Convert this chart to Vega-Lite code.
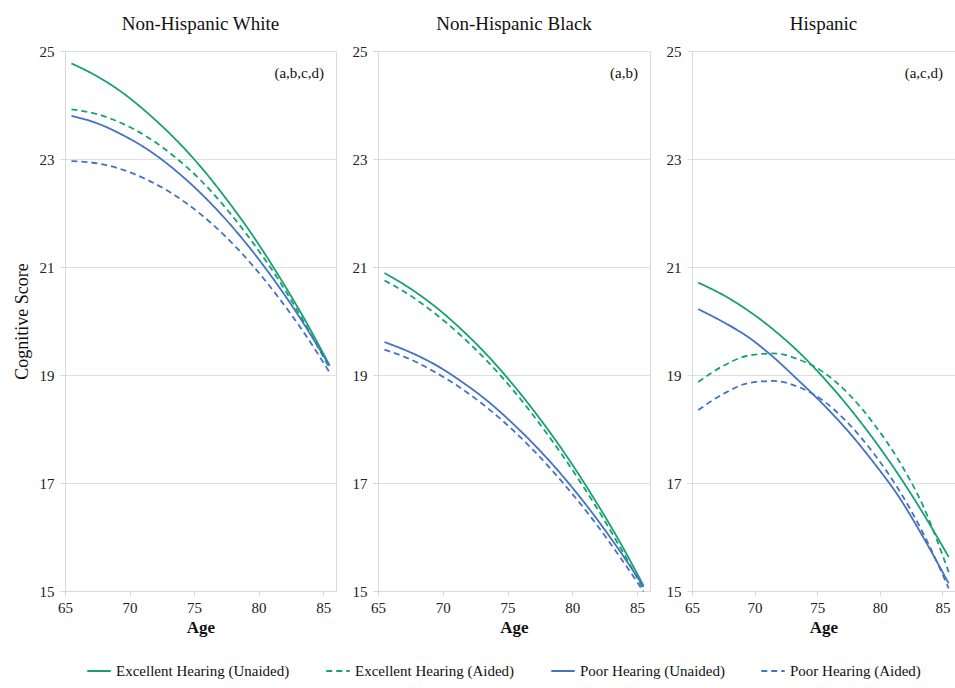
{
  "$schema": "https://vega.github.io/schema/vega-lite/v6.json",
  "background": "white",
  "padding": {"left": 12, "top": 14, "right": 4, "bottom": 5},
  "config": {
    "font": "'Liberation Serif', 'Times New Roman', 'DejaVu Serif', serif",
    "view": {"stroke": "#d9d9d9", "strokeWidth": 1},
    "axis": {
      "labelFont": "'Liberation Serif', 'Times New Roman', 'DejaVu Serif', serif",
      "labelFontSize": 15,
      "labelColor": "#222222",
      "titleFont": "'Liberation Serif', 'Times New Roman', 'DejaVu Serif', serif",
      "titleColor": "#111111",
      "domainColor": "#d9d9d9",
      "tickColor": "#d9d9d9",
      "gridColor": "#dedede",
      "tickSize": 5
    },
    "title": {"font": "'Liberation Serif', 'Times New Roman', 'DejaVu Serif', serif", "fontSize": 19, "fontWeight": "normal", "color": "#111111", "offset": 10, "anchor": "middle"},
    "text": {"font": "'Liberation Serif', 'Times New Roman', 'DejaVu Serif', serif"},
    "legend": {
      "orient": "bottom",
      "direction": "horizontal",
      "labelFont": "'Liberation Serif', 'Times New Roman', 'DejaVu Serif', serif",
      "labelFontSize": 15,
      "labelColor": "#111111",
      "symbolType": "stroke",
      "symbolStrokeWidth": 2,
      "symbolSize": 550,
      "columnPadding": 32,
      "padding": 21,
      "offset": 1,
      "labelLimit": 400
    },
    "concat": {"spacing": 14}
  },
  "datasets": {
    "curves": [
      {"group": "Non-Hispanic White", "hearing": "Excellent Hearing (Unaided)", "age": 65, "score": 24.77},
      {"group": "Non-Hispanic White", "hearing": "Excellent Hearing (Unaided)", "age": 67, "score": 24.53},
      {"group": "Non-Hispanic White", "hearing": "Excellent Hearing (Unaided)", "age": 69, "score": 24.22},
      {"group": "Non-Hispanic White", "hearing": "Excellent Hearing (Unaided)", "age": 71, "score": 23.83},
      {"group": "Non-Hispanic White", "hearing": "Excellent Hearing (Unaided)", "age": 73, "score": 23.38},
      {"group": "Non-Hispanic White", "hearing": "Excellent Hearing (Unaided)", "age": 75, "score": 22.86},
      {"group": "Non-Hispanic White", "hearing": "Excellent Hearing (Unaided)", "age": 77, "score": 22.26},
      {"group": "Non-Hispanic White", "hearing": "Excellent Hearing (Unaided)", "age": 79, "score": 21.60},
      {"group": "Non-Hispanic White", "hearing": "Excellent Hearing (Unaided)", "age": 81, "score": 20.86},
      {"group": "Non-Hispanic White", "hearing": "Excellent Hearing (Unaided)", "age": 83, "score": 20.06},
      {"group": "Non-Hispanic White", "hearing": "Excellent Hearing (Unaided)", "age": 85, "score": 19.18},
      {"group": "Non-Hispanic White", "hearing": "Excellent Hearing (Aided)", "age": 65, "score": 23.92},
      {"group": "Non-Hispanic White", "hearing": "Excellent Hearing (Aided)", "age": 67, "score": 23.83},
      {"group": "Non-Hispanic White", "hearing": "Excellent Hearing (Aided)", "age": 69, "score": 23.65},
      {"group": "Non-Hispanic White", "hearing": "Excellent Hearing (Aided)", "age": 71, "score": 23.39},
      {"group": "Non-Hispanic White", "hearing": "Excellent Hearing (Aided)", "age": 73, "score": 23.04},
      {"group": "Non-Hispanic White", "hearing": "Excellent Hearing (Aided)", "age": 75, "score": 22.61},
      {"group": "Non-Hispanic White", "hearing": "Excellent Hearing (Aided)", "age": 77, "score": 22.08},
      {"group": "Non-Hispanic White", "hearing": "Excellent Hearing (Aided)", "age": 79, "score": 21.47},
      {"group": "Non-Hispanic White", "hearing": "Excellent Hearing (Aided)", "age": 81, "score": 20.78},
      {"group": "Non-Hispanic White", "hearing": "Excellent Hearing (Aided)", "age": 83, "score": 19.99},
      {"group": "Non-Hispanic White", "hearing": "Excellent Hearing (Aided)", "age": 85, "score": 19.12},
      {"group": "Non-Hispanic White", "hearing": "Poor Hearing (Unaided)", "age": 65, "score": 23.80},
      {"group": "Non-Hispanic White", "hearing": "Poor Hearing (Unaided)", "age": 67, "score": 23.66},
      {"group": "Non-Hispanic White", "hearing": "Poor Hearing (Unaided)", "age": 69, "score": 23.44},
      {"group": "Non-Hispanic White", "hearing": "Poor Hearing (Unaided)", "age": 71, "score": 23.16},
      {"group": "Non-Hispanic White", "hearing": "Poor Hearing (Unaided)", "age": 73, "score": 22.80},
      {"group": "Non-Hispanic White", "hearing": "Poor Hearing (Unaided)", "age": 75, "score": 22.37},
      {"group": "Non-Hispanic White", "hearing": "Poor Hearing (Unaided)", "age": 77, "score": 21.87},
      {"group": "Non-Hispanic White", "hearing": "Poor Hearing (Unaided)", "age": 79, "score": 21.30},
      {"group": "Non-Hispanic White", "hearing": "Poor Hearing (Unaided)", "age": 81, "score": 20.66},
      {"group": "Non-Hispanic White", "hearing": "Poor Hearing (Unaided)", "age": 83, "score": 19.95},
      {"group": "Non-Hispanic White", "hearing": "Poor Hearing (Unaided)", "age": 85, "score": 19.17},
      {"group": "Non-Hispanic White", "hearing": "Poor Hearing (Aided)", "age": 65, "score": 22.96},
      {"group": "Non-Hispanic White", "hearing": "Poor Hearing (Aided)", "age": 67, "score": 22.92},
      {"group": "Non-Hispanic White", "hearing": "Poor Hearing (Aided)", "age": 69, "score": 22.80},
      {"group": "Non-Hispanic White", "hearing": "Poor Hearing (Aided)", "age": 71, "score": 22.60},
      {"group": "Non-Hispanic White", "hearing": "Poor Hearing (Aided)", "age": 73, "score": 22.33},
      {"group": "Non-Hispanic White", "hearing": "Poor Hearing (Aided)", "age": 75, "score": 21.98},
      {"group": "Non-Hispanic White", "hearing": "Poor Hearing (Aided)", "age": 77, "score": 21.55},
      {"group": "Non-Hispanic White", "hearing": "Poor Hearing (Aided)", "age": 79, "score": 21.04},
      {"group": "Non-Hispanic White", "hearing": "Poor Hearing (Aided)", "age": 81, "score": 20.45},
      {"group": "Non-Hispanic White", "hearing": "Poor Hearing (Aided)", "age": 83, "score": 19.79},
      {"group": "Non-Hispanic White", "hearing": "Poor Hearing (Aided)", "age": 85, "score": 19.05},

      {"group": "Non-Hispanic Black", "hearing": "Excellent Hearing (Unaided)", "age": 65, "score": 20.89},
      {"group": "Non-Hispanic Black", "hearing": "Excellent Hearing (Unaided)", "age": 67, "score": 20.60},
      {"group": "Non-Hispanic Black", "hearing": "Excellent Hearing (Unaided)", "age": 69, "score": 20.25},
      {"group": "Non-Hispanic Black", "hearing": "Excellent Hearing (Unaided)", "age": 71, "score": 19.83},
      {"group": "Non-Hispanic Black", "hearing": "Excellent Hearing (Unaided)", "age": 73, "score": 19.35},
      {"group": "Non-Hispanic Black", "hearing": "Excellent Hearing (Unaided)", "age": 75, "score": 18.80},
      {"group": "Non-Hispanic Black", "hearing": "Excellent Hearing (Unaided)", "age": 77, "score": 18.19},
      {"group": "Non-Hispanic Black", "hearing": "Excellent Hearing (Unaided)", "age": 79, "score": 17.52},
      {"group": "Non-Hispanic Black", "hearing": "Excellent Hearing (Unaided)", "age": 81, "score": 16.78},
      {"group": "Non-Hispanic Black", "hearing": "Excellent Hearing (Unaided)", "age": 83, "score": 15.98},
      {"group": "Non-Hispanic Black", "hearing": "Excellent Hearing (Unaided)", "age": 85, "score": 15.10},
      {"group": "Non-Hispanic Black", "hearing": "Excellent Hearing (Aided)", "age": 65, "score": 20.75},
      {"group": "Non-Hispanic Black", "hearing": "Excellent Hearing (Aided)", "age": 67, "score": 20.47},
      {"group": "Non-Hispanic Black", "hearing": "Excellent Hearing (Aided)", "age": 69, "score": 20.12},
      {"group": "Non-Hispanic Black", "hearing": "Excellent Hearing (Aided)", "age": 71, "score": 19.71},
      {"group": "Non-Hispanic Black", "hearing": "Excellent Hearing (Aided)", "age": 73, "score": 19.24},
      {"group": "Non-Hispanic Black", "hearing": "Excellent Hearing (Aided)", "age": 75, "score": 18.70},
      {"group": "Non-Hispanic Black", "hearing": "Excellent Hearing (Aided)", "age": 77, "score": 18.09},
      {"group": "Non-Hispanic Black", "hearing": "Excellent Hearing (Aided)", "age": 79, "score": 17.42},
      {"group": "Non-Hispanic Black", "hearing": "Excellent Hearing (Aided)", "age": 81, "score": 16.69},
      {"group": "Non-Hispanic Black", "hearing": "Excellent Hearing (Aided)", "age": 83, "score": 15.89},
      {"group": "Non-Hispanic Black", "hearing": "Excellent Hearing (Aided)", "age": 85, "score": 15.03},
      {"group": "Non-Hispanic Black", "hearing": "Poor Hearing (Unaided)", "age": 65, "score": 19.61},
      {"group": "Non-Hispanic Black", "hearing": "Poor Hearing (Unaided)", "age": 67, "score": 19.42},
      {"group": "Non-Hispanic Black", "hearing": "Poor Hearing (Unaided)", "age": 69, "score": 19.18},
      {"group": "Non-Hispanic Black", "hearing": "Poor Hearing (Unaided)", "age": 71, "score": 18.87},
      {"group": "Non-Hispanic Black", "hearing": "Poor Hearing (Unaided)", "age": 73, "score": 18.51},
      {"group": "Non-Hispanic Black", "hearing": "Poor Hearing (Unaided)", "age": 75, "score": 18.08},
      {"group": "Non-Hispanic Black", "hearing": "Poor Hearing (Unaided)", "age": 77, "score": 17.60},
      {"group": "Non-Hispanic Black", "hearing": "Poor Hearing (Unaided)", "age": 79, "score": 17.06},
      {"group": "Non-Hispanic Black", "hearing": "Poor Hearing (Unaided)", "age": 81, "score": 16.46},
      {"group": "Non-Hispanic Black", "hearing": "Poor Hearing (Unaided)", "age": 83, "score": 15.80},
      {"group": "Non-Hispanic Black", "hearing": "Poor Hearing (Unaided)", "age": 85, "score": 15.08},
      {"group": "Non-Hispanic Black", "hearing": "Poor Hearing (Aided)", "age": 65, "score": 19.47},
      {"group": "Non-Hispanic Black", "hearing": "Poor Hearing (Aided)", "age": 67, "score": 19.29},
      {"group": "Non-Hispanic Black", "hearing": "Poor Hearing (Aided)", "age": 69, "score": 19.04},
      {"group": "Non-Hispanic Black", "hearing": "Poor Hearing (Aided)", "age": 71, "score": 18.74},
      {"group": "Non-Hispanic Black", "hearing": "Poor Hearing (Aided)", "age": 73, "score": 18.38},
      {"group": "Non-Hispanic Black", "hearing": "Poor Hearing (Aided)", "age": 75, "score": 17.96},
      {"group": "Non-Hispanic Black", "hearing": "Poor Hearing (Aided)", "age": 77, "score": 17.48},
      {"group": "Non-Hispanic Black", "hearing": "Poor Hearing (Aided)", "age": 79, "score": 16.94},
      {"group": "Non-Hispanic Black", "hearing": "Poor Hearing (Aided)", "age": 81, "score": 16.35},
      {"group": "Non-Hispanic Black", "hearing": "Poor Hearing (Aided)", "age": 83, "score": 15.69},
      {"group": "Non-Hispanic Black", "hearing": "Poor Hearing (Aided)", "age": 85, "score": 14.99},

      {"group": "Hispanic", "hearing": "Excellent Hearing (Unaided)", "age": 65, "score": 20.71},
      {"group": "Hispanic", "hearing": "Excellent Hearing (Unaided)", "age": 67, "score": 20.48},
      {"group": "Hispanic", "hearing": "Excellent Hearing (Unaided)", "age": 69, "score": 20.19},
      {"group": "Hispanic", "hearing": "Excellent Hearing (Unaided)", "age": 71, "score": 19.84},
      {"group": "Hispanic", "hearing": "Excellent Hearing (Unaided)", "age": 73, "score": 19.43},
      {"group": "Hispanic", "hearing": "Excellent Hearing (Unaided)", "age": 75, "score": 18.95},
      {"group": "Hispanic", "hearing": "Excellent Hearing (Unaided)", "age": 77, "score": 18.41},
      {"group": "Hispanic", "hearing": "Excellent Hearing (Unaided)", "age": 79, "score": 17.81},
      {"group": "Hispanic", "hearing": "Excellent Hearing (Unaided)", "age": 81, "score": 17.15},
      {"group": "Hispanic", "hearing": "Excellent Hearing (Unaided)", "age": 83, "score": 16.42},
      {"group": "Hispanic", "hearing": "Excellent Hearing (Unaided)", "age": 85, "score": 15.63},
      {"group": "Hispanic", "hearing": "Excellent Hearing (Aided)", "age": 65, "score": 18.87},
      {"group": "Hispanic", "hearing": "Excellent Hearing (Aided)", "age": 67, "score": 19.17},
      {"group": "Hispanic", "hearing": "Excellent Hearing (Aided)", "age": 69, "score": 19.36},
      {"group": "Hispanic", "hearing": "Excellent Hearing (Aided)", "age": 71, "score": 19.40},
      {"group": "Hispanic", "hearing": "Excellent Hearing (Aided)", "age": 73, "score": 19.29},
      {"group": "Hispanic", "hearing": "Excellent Hearing (Aided)", "age": 75, "score": 19.05},
      {"group": "Hispanic", "hearing": "Excellent Hearing (Aided)", "age": 77, "score": 18.65},
      {"group": "Hispanic", "hearing": "Excellent Hearing (Aided)", "age": 79, "score": 18.10},
      {"group": "Hispanic", "hearing": "Excellent Hearing (Aided)", "age": 81, "score": 17.42},
      {"group": "Hispanic", "hearing": "Excellent Hearing (Aided)", "age": 83, "score": 16.55},
      {"group": "Hispanic", "hearing": "Excellent Hearing (Aided)", "age": 85, "score": 15.35},
      {"group": "Hispanic", "hearing": "Poor Hearing (Unaided)", "age": 65, "score": 20.22},
      {"group": "Hispanic", "hearing": "Poor Hearing (Unaided)", "age": 67, "score": 19.98},
      {"group": "Hispanic", "hearing": "Poor Hearing (Unaided)", "age": 69, "score": 19.70},
      {"group": "Hispanic", "hearing": "Poor Hearing (Unaided)", "age": 71, "score": 19.33},
      {"group": "Hispanic", "hearing": "Poor Hearing (Unaided)", "age": 73, "score": 18.90},
      {"group": "Hispanic", "hearing": "Poor Hearing (Unaided)", "age": 75, "score": 18.45},
      {"group": "Hispanic", "hearing": "Poor Hearing (Unaided)", "age": 77, "score": 17.95},
      {"group": "Hispanic", "hearing": "Poor Hearing (Unaided)", "age": 79, "score": 17.38},
      {"group": "Hispanic", "hearing": "Poor Hearing (Unaided)", "age": 81, "score": 16.75},
      {"group": "Hispanic", "hearing": "Poor Hearing (Unaided)", "age": 83, "score": 15.98},
      {"group": "Hispanic", "hearing": "Poor Hearing (Unaided)", "age": 85, "score": 15.14},
      {"group": "Hispanic", "hearing": "Poor Hearing (Aided)", "age": 65, "score": 18.35},
      {"group": "Hispanic", "hearing": "Poor Hearing (Aided)", "age": 67, "score": 18.65},
      {"group": "Hispanic", "hearing": "Poor Hearing (Aided)", "age": 69, "score": 18.85},
      {"group": "Hispanic", "hearing": "Poor Hearing (Aided)", "age": 71, "score": 18.89},
      {"group": "Hispanic", "hearing": "Poor Hearing (Aided)", "age": 73, "score": 18.78},
      {"group": "Hispanic", "hearing": "Poor Hearing (Aided)", "age": 75, "score": 18.52},
      {"group": "Hispanic", "hearing": "Poor Hearing (Aided)", "age": 77, "score": 18.10},
      {"group": "Hispanic", "hearing": "Poor Hearing (Aided)", "age": 79, "score": 17.55},
      {"group": "Hispanic", "hearing": "Poor Hearing (Aided)", "age": 81, "score": 16.88},
      {"group": "Hispanic", "hearing": "Poor Hearing (Aided)", "age": 83, "score": 16.05},
      {"group": "Hispanic", "hearing": "Poor Hearing (Aided)", "age": 85, "score": 15.05}
    ],
    "notes": [
      {"group": "Non-Hispanic White", "note": "(a,b,c,d)"},
      {"group": "Non-Hispanic Black", "note": "(a,b)"},
      {"group": "Hispanic", "note": "(a,c,d)"}
    ]
  },
  "hconcat": [
    {
      "width": 271,
      "height": 540,
      "title": "Non-Hispanic White",
      "layer": [
        {
          "data": {"name": "curves"},
          "transform": [{"filter": "datum.group === 'Non-Hispanic White'"}],
          "mark": {"type": "line", "strokeWidth": 1.8, "interpolate": "monotone"},
          "encoding": {
            "x": {"field": "age", "type": "quantitative", "scale": {"domain": [64.5, 85.5], "nice": false, "zero": false},
                  "axis": {"values": [65, 70, 75, 80, 85], "title": "Age", "grid": false, "tickOffset": -6.4, "labelPadding": 4, "titleFontSize": 17, "titleFontWeight": "bold", "titlePadding": 4}},
            "y": {"field": "score", "type": "quantitative", "scale": {"domain": [15, 25], "nice": false, "zero": false},
                  "axis": {"values": [15, 17, 19, 21, 23, 25], "title": "Cognitive Score", "grid": true, "labelPadding": 6, "titleFontSize": 18, "titleFontWeight": "normal", "titlePadding": 8}},
            "color": {"field": "hearing", "type": "nominal",
                      "scale": {"domain": ["Excellent Hearing (Unaided)", "Excellent Hearing (Aided)", "Poor Hearing (Unaided)", "Poor Hearing (Aided)"], "range": ["#17a173", "#17a173", "#4472c4", "#4472c4"]},
                      "legend": {"title": null}},
            "strokeDash": {"field": "hearing", "type": "nominal",
                      "scale": {"domain": ["Excellent Hearing (Unaided)", "Excellent Hearing (Aided)", "Poor Hearing (Unaided)", "Poor Hearing (Aided)"], "range": [[1, 0], [6, 4], [1, 0], [6, 4]]},
                      "legend": {"title": null}}
          }
        },
        {
          "data": {"name": "notes"},
          "transform": [{"filter": "datum.group === 'Non-Hispanic White'"}],
          "mark": {"type": "text", "align": "right", "baseline": "top", "dx": -12, "dy": 15, "fontSize": 15, "color": "#111111"},
          "encoding": {
            "x": {"datum": 85.5, "type": "quantitative"},
            "y": {"datum": 25, "type": "quantitative"},
            "text": {"field": "note", "type": "nominal"}
          }
        }
      ]
    },
    {
      "width": 272,
      "height": 540,
      "title": "Non-Hispanic Black",
      "layer": [
        {
          "data": {"name": "curves"},
          "transform": [{"filter": "datum.group === 'Non-Hispanic Black'"}],
          "mark": {"type": "line", "strokeWidth": 1.8, "interpolate": "monotone"},
          "encoding": {
            "x": {"field": "age", "type": "quantitative", "scale": {"domain": [64.5, 85.5], "nice": false, "zero": false},
                  "axis": {"values": [65, 70, 75, 80, 85], "title": "Age", "grid": false, "tickOffset": -6.4, "labelPadding": 4, "titleFontSize": 17, "titleFontWeight": "bold", "titlePadding": 4}},
            "y": {"field": "score", "type": "quantitative", "scale": {"domain": [15, 25], "nice": false, "zero": false},
                  "axis": {"values": [15, 17, 19, 21, 23, 25], "title": null, "grid": true, "labelPadding": 6}},
            "color": {"field": "hearing", "type": "nominal",
                      "scale": {"domain": ["Excellent Hearing (Unaided)", "Excellent Hearing (Aided)", "Poor Hearing (Unaided)", "Poor Hearing (Aided)"], "range": ["#17a173", "#17a173", "#4472c4", "#4472c4"]},
                      "legend": {"title": null}},
            "strokeDash": {"field": "hearing", "type": "nominal",
                      "scale": {"domain": ["Excellent Hearing (Unaided)", "Excellent Hearing (Aided)", "Poor Hearing (Unaided)", "Poor Hearing (Aided)"], "range": [[1, 0], [6, 4], [1, 0], [6, 4]]},
                      "legend": {"title": null}}
          }
        },
        {
          "data": {"name": "notes"},
          "transform": [{"filter": "datum.group === 'Non-Hispanic Black'"}],
          "mark": {"type": "text", "align": "right", "baseline": "top", "dx": -12, "dy": 15, "fontSize": 15, "color": "#111111"},
          "encoding": {
            "x": {"datum": 85.5, "type": "quantitative"},
            "y": {"datum": 25, "type": "quantitative"},
            "text": {"field": "note", "type": "nominal"}
          }
        }
      ]
    },
    {
      "width": 263,
      "height": 540,
      "title": "Hispanic",
      "layer": [
        {
          "data": {"name": "curves"},
          "transform": [{"filter": "datum.group === 'Hispanic'"}],
          "mark": {"type": "line", "strokeWidth": 1.8, "interpolate": "monotone"},
          "encoding": {
            "x": {"field": "age", "type": "quantitative", "scale": {"domain": [64.5, 85.5], "nice": false, "zero": false},
                  "axis": {"values": [65, 70, 75, 80, 85], "title": "Age", "grid": false, "tickOffset": -6.3, "labelPadding": 4, "titleFontSize": 17, "titleFontWeight": "bold", "titlePadding": 4}},
            "y": {"field": "score", "type": "quantitative", "scale": {"domain": [15, 25], "nice": false, "zero": false},
                  "axis": {"values": [15, 17, 19, 21, 23, 25], "title": null, "grid": true, "labelPadding": 6}},
            "color": {"field": "hearing", "type": "nominal",
                      "scale": {"domain": ["Excellent Hearing (Unaided)", "Excellent Hearing (Aided)", "Poor Hearing (Unaided)", "Poor Hearing (Aided)"], "range": ["#17a173", "#17a173", "#4472c4", "#4472c4"]},
                      "legend": {"title": null}},
            "strokeDash": {"field": "hearing", "type": "nominal",
                      "scale": {"domain": ["Excellent Hearing (Unaided)", "Excellent Hearing (Aided)", "Poor Hearing (Unaided)", "Poor Hearing (Aided)"], "range": [[1, 0], [6, 4], [1, 0], [6, 4]]},
                      "legend": {"title": null}}
          }
        },
        {
          "data": {"name": "notes"},
          "transform": [{"filter": "datum.group === 'Hispanic'"}],
          "mark": {"type": "text", "align": "right", "baseline": "top", "dx": -12, "dy": 15, "fontSize": 15, "color": "#111111"},
          "encoding": {
            "x": {"datum": 85.5, "type": "quantitative"},
            "y": {"datum": 25, "type": "quantitative"},
            "text": {"field": "note", "type": "nominal"}
          }
        }
      ]
    }
  ]
}
